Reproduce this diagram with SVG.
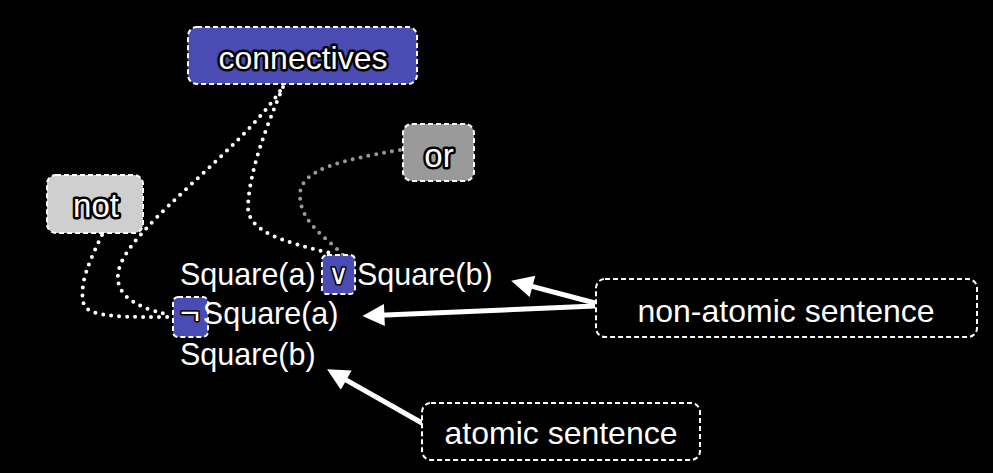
<svg xmlns="http://www.w3.org/2000/svg" width="993" height="473" viewBox="0 0 993 473">
  <style>
    text { font-family: "Liberation Sans", Arial, sans-serif; fill: #ffffff; }
    .box { stroke: #ffffff; stroke-width: 2; stroke-dasharray: 5 3; }
    .blue { fill: #4b4bb4; }
    .glow { stroke: #000000; stroke-width: 5; stroke-linejoin: round; paint-order: stroke; }
    .symglow { stroke: #000000; stroke-width: 3; stroke-linejoin: round; paint-order: stroke; }
    .label { font-size: 32px; text-anchor: middle; }
    .sent { font-size: 30.5px; }
    .dots { fill: none; stroke-width: 4; stroke-linecap: round; stroke-dasharray: 0 8; }
    .arrow { fill: none; stroke: #ffffff; stroke-width: 5; marker-end: url(#head); }
  </style>
  <defs>
    <marker id="head" viewBox="0 0 10 10" refX="2" refY="5" markerWidth="25" markerHeight="22" markerUnits="userSpaceOnUse" orient="auto">
      <path d="M0,0 L10,5 L0,10 z" fill="#ffffff"/>
    </marker>
  </defs>
  <rect width="993" height="473" fill="#000000"/>

  <g id="connectors">
    <path class="dots" stroke="#ffffff" d="M283,87 C265,130 250,170 248,205 C246,232 285,242 330,253"/>
    <path class="dots" stroke="#ffffff" d="M280,91 C240,150 140,220 121,263 C110,290 128,306 170,315"/>
    <path class="dots" stroke="#ffffff" d="M102,235 C90,260 78,285 84,305 C90,318 130,317 170,317"/>
    <path class="dots" stroke="#9a9a9a" d="M400,150 C340,160 300,170 300,195 C300,222 325,236 343,255"/>
    <path class="arrow" d="M595,303 L528.2,285.3"/>
    <path class="arrow" d="M595,306 L380,315.2"/>
    <path class="arrow" d="M422,423 L342.4,377.9"/>
  </g>

  <g id="node-connectives">
    <rect class="box blue" x="188" y="27" width="229" height="57" rx="9"/>
    <text class="label glow" x="303" y="69" style="font-size:32px">connectives</text>
  </g>

  <g id="node-or">
    <rect class="box" x="403" y="124" width="71" height="57" rx="9" fill="#9a9a9a"/>
    <text class="label glow" x="439" y="167" style="font-size:33px">or</text>
  </g>

  <g id="node-not">
    <rect class="box" x="47" y="175" width="96" height="58" rx="9" fill="#cfcfcf"/>
    <text class="label glow" x="96" y="217" style="font-size:33px">not</text>
  </g>

  <g id="node-or-symbol">
    <rect class="box blue" x="322" y="255" width="33" height="39" rx="5"/>
  </g>

  <g id="node-not-symbol">
    <rect class="box blue" x="173" y="297" width="35" height="40" rx="5"/>
  </g>

  <g id="sentence-1">
    <text class="sent" x="180" y="285">Square(a)</text>
    <text class="symglow" x="338.5" y="284" style="font-family:'DejaVu Sans',sans-serif;font-size:28px;text-anchor:middle">∨</text>
    <text class="sent" x="357" y="285">Square(b)</text>
  </g>

  <g id="sentence-2">
    <text class="sent" x="180" y="324"><tspan class="symglow" style="font-size:34px">¬</tspan><tspan dx="3">Square(a)</tspan></text>
  </g>

  <g id="sentence-3">
    <text class="sent" x="180" y="365">Square(b)</text>
  </g>

  <g id="node-non-atomic">
    <rect class="box" x="596" y="279" width="381" height="58" rx="9" fill="#000000"/>
    <text class="label" x="786" y="322" style="font-size:32px">non-atomic sentence</text>
  </g>

  <g id="node-atomic">
    <rect class="box" x="422" y="403" width="278" height="57" rx="9" fill="#000000"/>
    <text class="label" x="561" y="444" style="font-size:32px">atomic sentence</text>
  </g>
</svg>
